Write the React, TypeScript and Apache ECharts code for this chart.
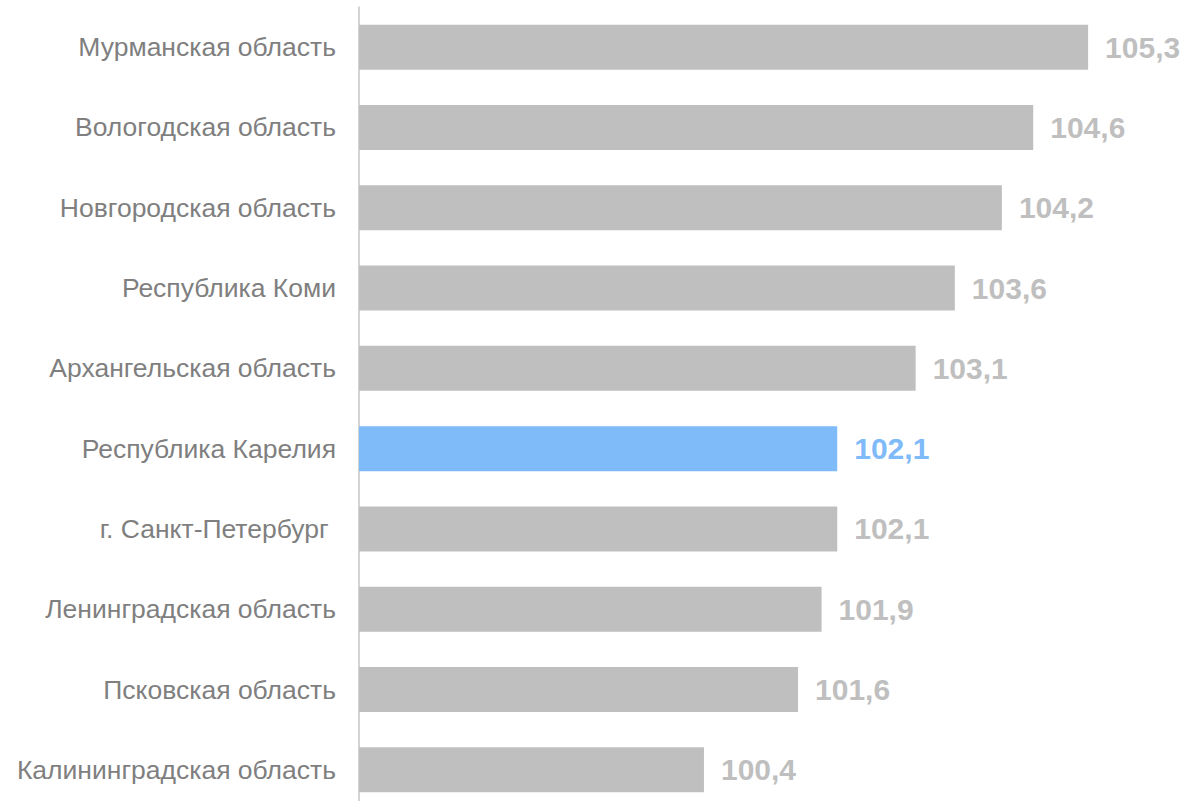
import React, { useEffect, useRef } from "react";
import * as echarts from "echarts";

const categories = [
  "Мурманская область",
  "Вологодская область",
  "Новгородская область",
  "Республика Коми",
  "Архангельская область",
  "Республика Карелия",
  "г. Санкт-Петербург ",
  "Ленинградская область",
  "Псковская область",
  "Калининградская область",
];
const values = [105.3, 104.6, 104.2, 103.6, 103.1, 102.1, 102.1, 101.9, 101.6, 100.4];
const highlighted = "Республика Карелия";

const GRAY = "#bfbfbf";
const BLUE = "#7fbaf9";

export default function App() {
  const ref = useRef<HTMLDivElement>(null);
  useEffect(() => {
    if (!ref.current) return;
    const chart = echarts.init(ref.current, undefined, { renderer: "svg" });
    const cats = [...categories].reverse();
    const vals = [...values].reverse();
    chart.setOption({
      animation: false,
      grid: { left: 359, right: 46, top: 7, bottom: 0, containLabel: false },
      xAxis: {
        type: "value",
        min: 96,
        max: 106,
        show: false,
      },
      yAxis: {
        type: "category",
        data: cats,
        axisLine: { show: true, lineStyle: { color: "#c6c6c6", width: 1.5 } },
        axisTick: { show: false },
        axisLabel: {
          color: "#7f7f7f",
          fontSize: 26.5,
          fontFamily: "Liberation Sans, Arial, sans-serif",
          margin: 23,
        },
        splitLine: { show: false },
      },
      series: [
        {
          type: "bar",
          barWidth: 45,
          data: vals.map((v, i) => {
            const hl = cats[i] === highlighted;
            return {
              value: v,
              itemStyle: { color: hl ? BLUE : GRAY },
              label: { color: hl ? BLUE : GRAY },
            };
          }),
          label: {
            show: true,
            position: "right",
            distance: 17,
            fontSize: 30,
            fontWeight: "bold",
            fontFamily: "Liberation Sans, Arial, sans-serif",
            formatter: (p: any) => p.value.toFixed(1).replace(".", ","),
          },
        },
      ],
    });
    return () => chart.dispose();
  }, []);
  return (
    <div
      style={{
        position: "absolute",
        left: 0,
        top: 0,
        width: 1189,
        height: 801,
        overflow: "hidden",
      }}
    >
      <div ref={ref} style={{ width: 1189, height: 810 }} />
    </div>
  );
}
